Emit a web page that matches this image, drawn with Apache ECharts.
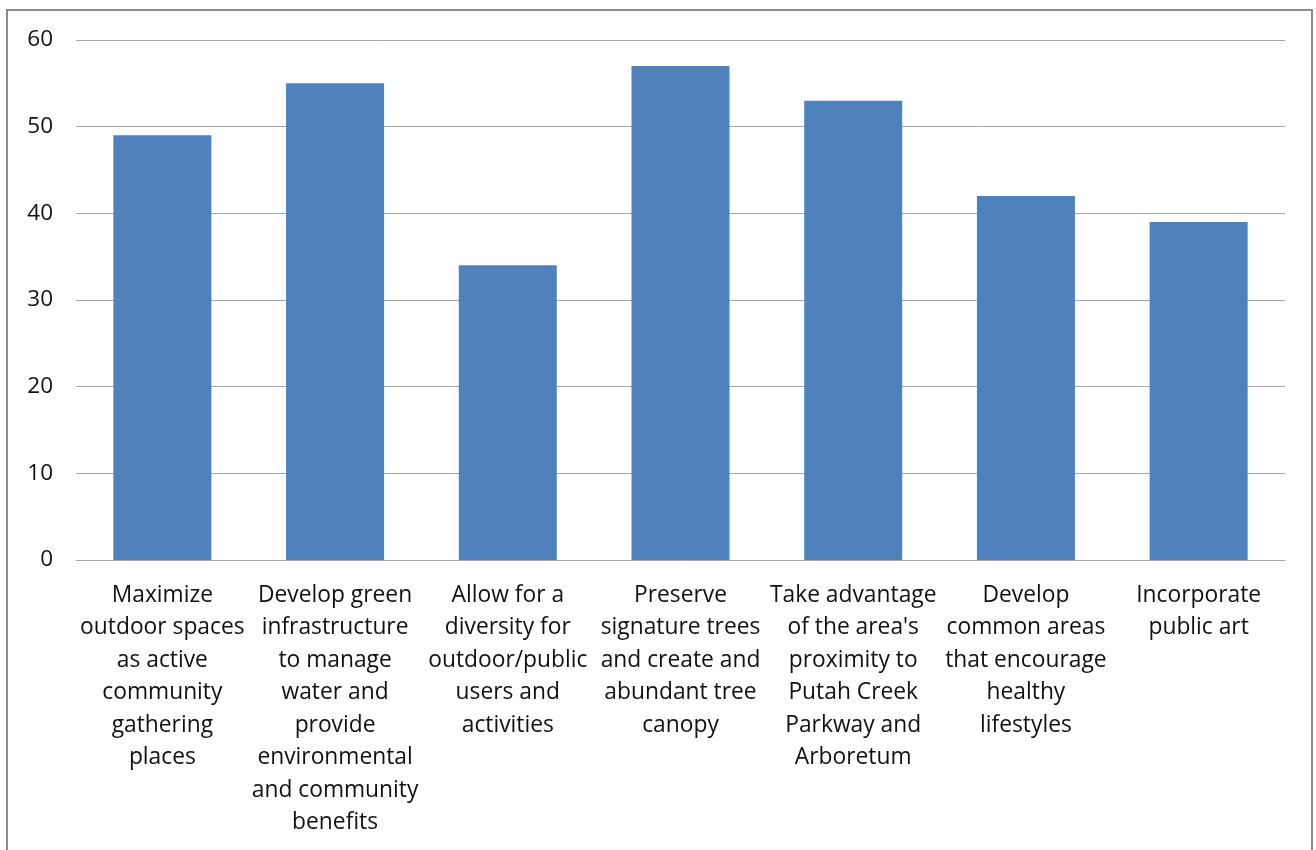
<!DOCTYPE html>
<html>
<head>
<meta charset="utf-8">
<script src="https://cdn.jsdelivr.net/npm/echarts@6/dist/echarts.min.js"></script>
<style>
html,body{margin:0;padding:0;background:#fff;}
#chart{width:1316px;height:850px;}
</style>
</head>
<body>
<div id="chart"></div>
<script>
const categories = [
  "Maximize\noutdoor spaces\nas active\ncommunity\ngathering\nplaces",
  "Develop green\ninfrastructure\nto manage\nwater and\nprovide\nenvironmental\nand community\nbenefits",
  "Allow for a\ndiversity for\noutdoor/public\nusers and\nactivities",
  "Preserve\nsignature trees\nand create and\nabundant tree\ncanopy",
  "Take advantage\nof the area's\nproximity to\nPutah Creek\nParkway and\nArboretum",
  "Develop\ncommon areas\nthat encourage\nhealthy\nlifestyles",
  "Incorporate\npublic art"
];
const values = [49, 55, 34, 57, 53, 42, 39];
const yTicks = {min: 0, max: 60, interval: 10};

const chart = echarts.init(document.getElementById('chart'), null, {renderer: 'canvas'});
chart.setOption({
  animation: false,
  backgroundColor: '#ffffff',
  graphic: [{
    type: 'rect',
    shape: {x: 7, y: 10, width: 1305, height: 900},
    style: {fill: 'none', stroke: '#8a8a8a', lineWidth: 2},
    silent: true
  }],
  grid: {left: 76, right: 31, top: 40, bottom: 290, containLabel: false},
  xAxis: {
    type: 'category',
    data: categories,
    axisLine: {show: true, lineStyle: {color: '#a6a6a6', width: 1}},
    axisTick: {show: false},
    axisLabel: {
      interval: 0,
      margin: 19,
      color: '#111111',
      fontFamily: '"Open Sans", sans-serif',
      fontSize: 22.8,
      lineHeight: 32.5,
      align: 'center'
    }
  },
  yAxis: {
    type: 'value',
    min: yTicks.min,
    max: yTicks.max,
    interval: yTicks.interval,
    axisLine: {show: false},
    axisTick: {show: false},
    splitLine: {show: true, lineStyle: {color: '#a6a6a6', width: 1}},
    axisLabel: {
      margin: 23,
      color: '#111111',
      fontFamily: '"Open Sans", sans-serif',
      fontSize: 22.5
    }
  },
  series: [{
    type: 'bar',
    data: values,
    barWidth: 98,
    itemStyle: {color: '#4f81bd'}
  }]
});
</script>
</body>
</html>
